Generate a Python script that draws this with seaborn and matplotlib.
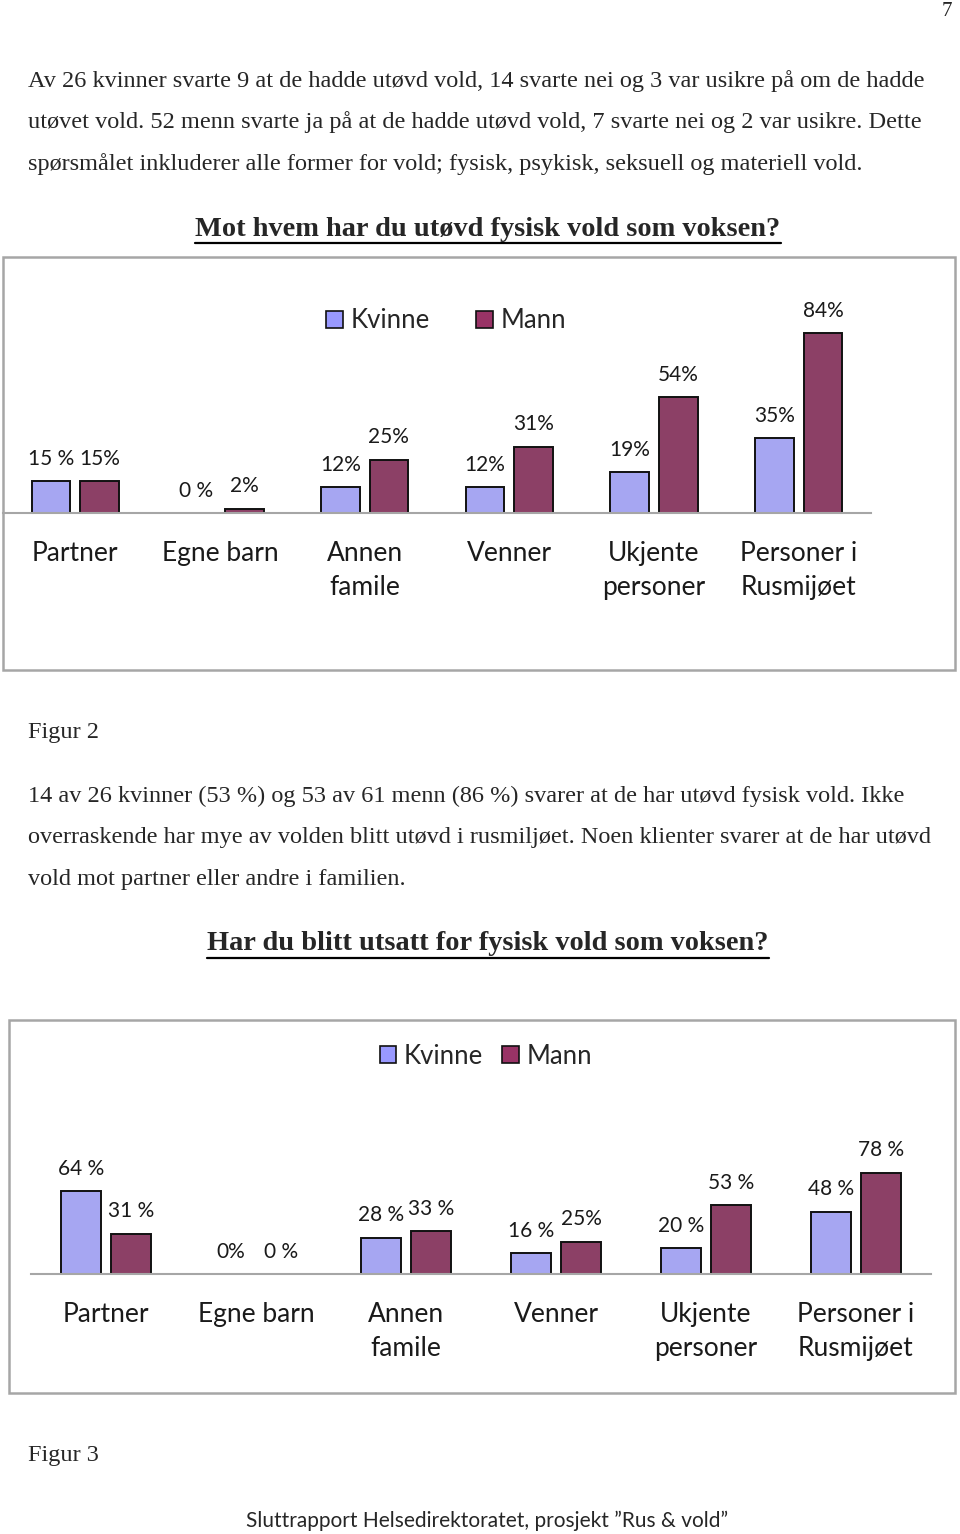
import pandas as pd
import matplotlib.pyplot as plt
import seaborn as sns
from matplotlib.lines import Line2D
from matplotlib.patches import Rectangle

# Data for the two figures
categories = ["Partner", "Egne barn", "Annen\nfamile", "Venner", "Ukjente\npersoner", "Personer i\nRusmijøet"]
series = ["Kvinne", "Mann"]

fig2_kvinne = [15, 0, 12, 12, 19, 35]
fig2_mann = [15, 2, 25, 31, 54, 84]
fig2_kvinne_labels = ["15 %", "0 %", "12%", "12%", "19%", "35%"]
fig2_mann_labels = ["15%", "2%", "25%", "31%", "54%", "84%"]

fig3_kvinne = [64, 0, 28, 16, 20, 48]
fig3_mann = [31, 0, 33, 25, 53, 78]
fig3_kvinne_labels = ["64 %", "0%", "28 %", "16 %", "20 %", "48 %"]
fig3_mann_labels = ["31 %", "0 %", "33 %", "25%", "53 %", "78 %"]

colors = {"Kvinne": "#9999FF", "Mann": "#993366"}

sns.set_theme(style="white")
plt.rcParams["font.family"] = ["Lato", "DejaVu Sans"]

W, H = 960, 1534
fig = plt.figure(figsize=(W / 100, H / 100), dpi=100)
fig.patch.set_facecolor("white")


def fx(x):
    return x / W


def fy(y):
    return 1 - y / H


def page_text(x, y, s, **kw):
    kw.setdefault("family", ["Liberation Serif", "DejaVu Serif"])
    kw.setdefault("fontsize", 17.5)
    kw.setdefault("va", "center")
    return fig.text(fx(x), fy(y), s, **kw)


def box(x0, y0, x1, y1):
    fig.patches.append(Rectangle((fx(x0), fy(y1)), fx(x1 - x0), (y1 - y0) / H,
                                 transform=fig.transFigure, fill=False,
                                 edgecolor="#a6a6a6", linewidth=1.8))


def chart(left, right, bottom, top, kvinne, mann, k_labels, m_labels):
    ax = fig.add_axes([fx(left), fy(bottom), fx(right - left), (bottom - top) / H])
    df = pd.DataFrame({
        "kategori": categories * 2,
        "kjonn": ["Kvinne"] * len(categories) + ["Mann"] * len(categories),
        "andel": kvinne + mann,
    })
    sns.barplot(data=df, x="kategori", y="andel", hue="kjonn", palette=colors,
                width=0.67, gap=0.2, edgecolor="#111111", linewidth=1.4,
                ax=ax, legend=False)
    ax.set_ylim(0, 100)
    ax.set_xlim(-0.5, len(categories) - 0.5)
    for cont, labels in zip(ax.containers, [k_labels, m_labels]):
        for bar, lab in zip(cont, labels):
            if bar.get_height() == 0:
                bar.set_linewidth(0)
            ax.annotate(lab, (bar.get_x() + bar.get_width() / 2, bar.get_height()),
                        xytext=(0, 16), textcoords="offset points",
                        ha="center", va="center", fontsize=15, color="#1a1a1a")
    for s in ["top", "right", "left"]:
        ax.spines[s].set_visible(False)
    ax.spines["bottom"].set_color("#a6a6a6")
    ax.spines["bottom"].set_linewidth(1.5)
    ax.set_yticks([])
    ax.set_xlabel("")
    ax.set_ylabel("")
    ax.tick_params(axis="x", length=0, pad=20, labelsize=19, colors="#1a1a1a")
    for t in ax.get_xticklabels():
        t.set_linespacing(1.45)
    ax.patch.set_alpha(0)

    handles = [Rectangle((0, 0), 1, 1, facecolor=colors[s], edgecolor="#111111", linewidth=1.2)
               for s in series]
    return ax, handles


# page header and text
page_text(942, 11, "7", fontsize=15)
page_text(28, 81, "Av 26 kvinner svarte 9 at de hadde utøvd vold, 14 svarte nei og 3 var usikre på om de hadde")
page_text(28, 122, "utøvet vold. 52 menn svarte ja på at de hadde utøvd vold, 7 svarte nei og 2 var usikre. Dette")
page_text(28, 164, "spørsmålet inkluderer alle former for vold; fysisk, psykisk, seksuell og materiell vold.")
title1 = page_text(488, 229, "Mot hvem har du utøvd fysisk vold som voksen?", fontsize=20.4,
                   weight="bold", ha="center")

box(3, 257, 955, 670)
ax1, h1 = chart(3, 871, 513, 299, fig2_kvinne, fig2_mann,
                fig2_kvinne_labels, fig2_mann_labels)
fig.legend(h1, series, loc="center", bbox_to_anchor=(fx(446), fy(321)), ncol=2,
           frameon=False, fontsize=18.5, handlelength=0.65, handleheight=0.65,
           handletextpad=0.3, columnspacing=1.8)

page_text(28, 733, "Figur 2")
page_text(28, 796, "14 av 26 kvinner (53 %) og 53 av 61 menn (86 %) svarer at de har utøvd fysisk vold. Ikke")
page_text(28, 838, "overraskende har mye av volden blitt utøvd i rusmiljøet. Noen klienter svarer at de har utøvd")
page_text(28, 880, "vold mot partner eller andre i familien.")
title2 = page_text(488, 944, "Har du blitt utsatt for fysisk vold som voksen?", fontsize=20.4,
                   weight="bold", ha="center")

box(9, 1020, 955, 1393)
ax2, h2 = chart(31, 931, 1274, 1144, fig3_kvinne, fig3_mann,
                fig3_kvinne_labels, fig3_mann_labels)
fig.legend(h2, series, loc="center", bbox_to_anchor=(fx(486), fy(1056)), ncol=2,
           frameon=False, fontsize=18.5, handlelength=0.65, handleheight=0.65,
           handletextpad=0.3, columnspacing=0.75)

page_text(28, 1456, "Figur 3")
page_text(487, 1521, "Sluttrapport Helsedirektoratet, prosjekt \u201dRus & vold\u201d",
          family=["Lato", "DejaVu Sans"], fontsize=15, ha="center")

# underline the two headings
fig.canvas.draw()
renderer = fig.canvas.get_renderer()
for t, y in [(title1, 243), (title2, 958)]:
    bb = t.get_window_extent(renderer)
    fig.lines.append(Line2D([bb.x0 / W, bb.x1 / W], [fy(y), fy(y)],
                            transform=fig.transFigure, color="black", linewidth=1.6))

fig.savefig("out.png", dpi=100)
